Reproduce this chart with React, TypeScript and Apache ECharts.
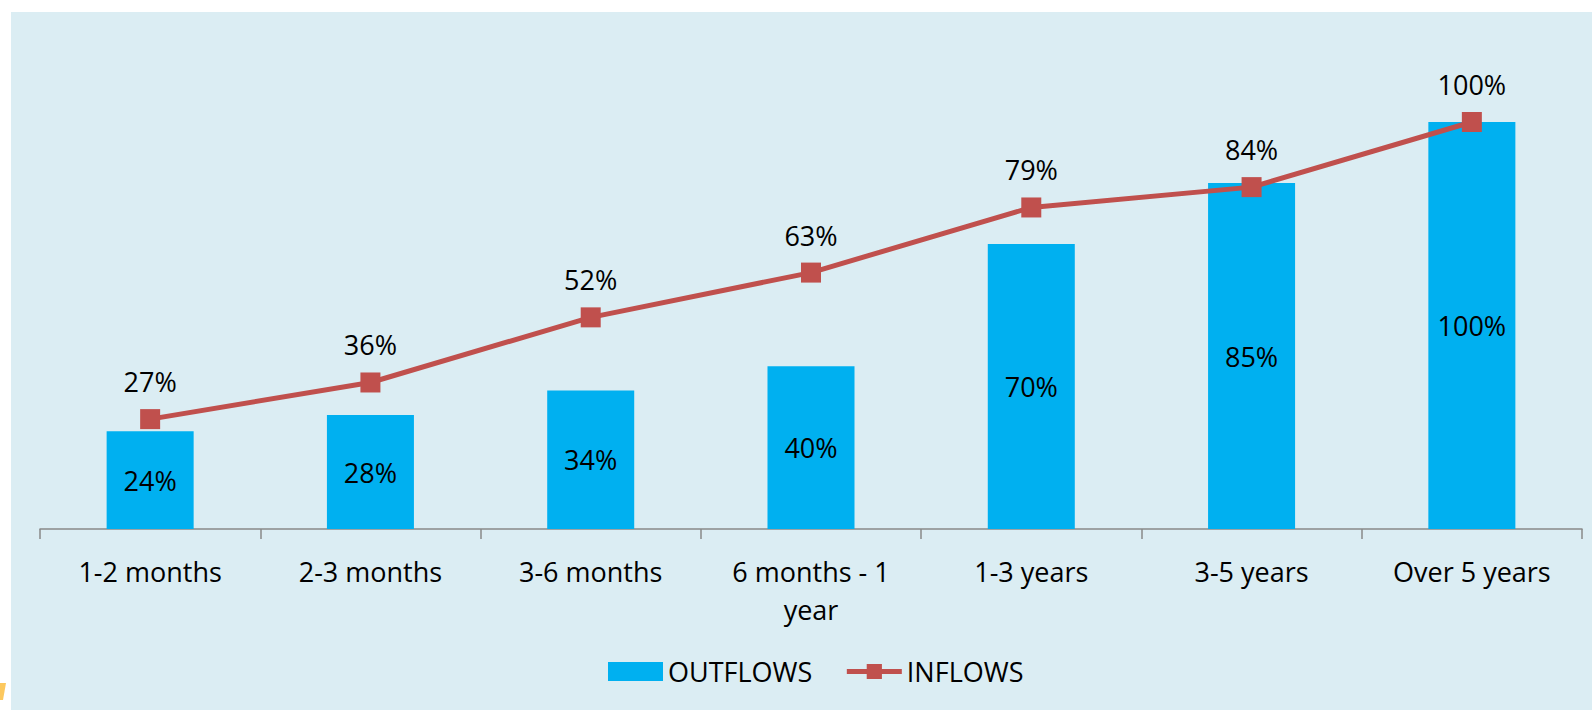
import React, { useEffect, useRef } from "react";
import * as echarts from "echarts";

const categories = [
  "1-2 months",
  "2-3 months",
  "3-6 months",
  "6 months - 1\nyear",
  "1-3 years",
  "3-5 years",
  "Over 5 years",
];
const outflows = [24, 28, 34, 40, 70, 85, 100];
const inflows = [27, 36, 52, 63, 79, 84, 100];

const FONT = "'Open Sans', sans-serif";

export default function App() {
  const ref = useRef<HTMLDivElement>(null);

  useEffect(() => {
    document.body.style.margin = "0";
    const chart = echarts.init(ref.current!, null, { renderer: "svg" });
    chart.setOption({
      animation: false,
      backgroundColor: "#ffffff",
      textStyle: { fontFamily: FONT },
      graphic: [
        {
          type: "rect",
          z: -10,
          silent: true,
          shape: { x: 11, y: 12, width: 1581, height: 698 },
          style: { fill: "#DBEDF3" },
        },
        {
          type: "polygon",
          z: -9,
          silent: true,
          shape: { points: [[0, 683], [6, 683], [3, 700], [0, 700]] },
          style: { fill: "#FCC85E" },
        },
      ],
      grid: { left: 40, right: 10, top: 122, bottom: 181, containLabel: false },
      legend: {
        left: 603,
        top: 653,
        itemWidth: 55,
        itemHeight: 19,
        itemGap: 32,
        lineStyle: { width: 5 },
        textStyle: { fontFamily: FONT, fontSize: 27, color: "#000" },
        data: [
          { name: "OUTFLOWS", icon: "rect" },
          { name: "INFLOWS" },
        ],
      },
      xAxis: {
        type: "category",
        data: categories,
        axisLine: { lineStyle: { color: "#898989", width: 1.5 } },
        axisTick: { show: true, length: 10, lineStyle: { color: "#898989", width: 1.5 } },
        axisLabel: {
          color: "#000",
          fontFamily: FONT,
          fontSize: 27,
          lineHeight: 38,
          margin: 23,
          interval: 0,
        },
      },
      yAxis: {
        type: "value",
        min: 0,
        max: 100,
        show: false,
        splitLine: { show: false },
      },
      series: [
        {
          name: "OUTFLOWS",
          type: "bar",
          data: outflows,
          barWidth: "39.5%",
          itemStyle: { color: "#00B0F0" },
          label: {
            show: true,
            position: "inside",
            formatter: "{c}%",
            color: "#000",
            fontFamily: FONT,
            fontSize: 27,
          },
        },
        {
          name: "INFLOWS",
          type: "line",
          data: inflows,
          symbol: "rect",
          symbolSize: 20,
          lineStyle: { color: "#C0504D", width: 5 },
          itemStyle: { color: "#C0504D" },
          label: {
            show: true,
            position: "top",
            distance: 14,
            formatter: "{c}%",
            color: "#000",
            fontFamily: FONT,
            fontSize: 27,
          },
        },
      ],
    });
    return () => chart.dispose();
  }, []);

  return (
    <div
      ref={ref}
      style={{ position: "absolute", left: 0, top: 0, width: 1592, height: 710 }}
    />
  );
}
